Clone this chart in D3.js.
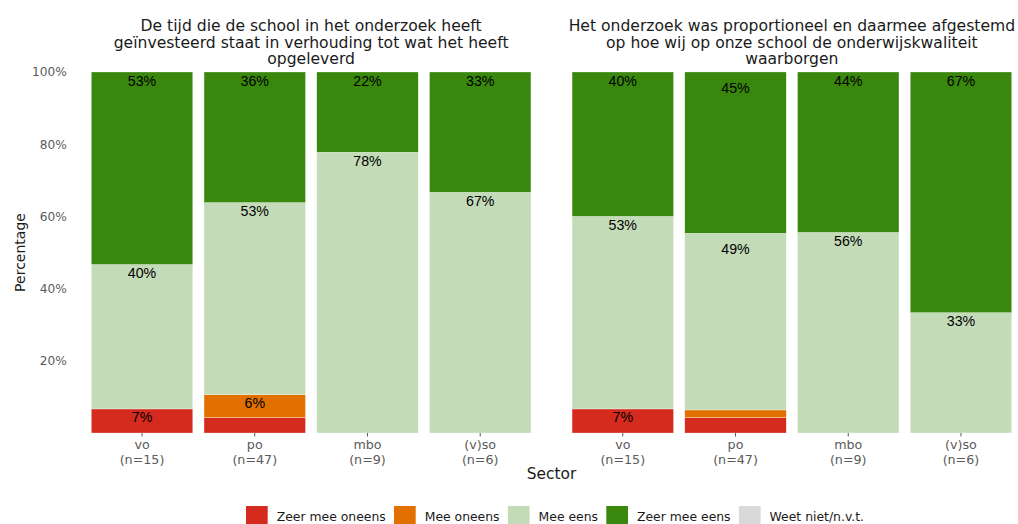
<!DOCTYPE html>
<html>
<head>
<meta charset="utf-8">
<script src="https://cdn.jsdelivr.net/npm/d3@7"></script>
<style>
  html, body { margin: 0; padding: 0; background: #fff; }
  svg { display: block; }
</style>
</head>
<body>
<svg id="chart" width="1018" height="524"></svg>
<script>
// ---------- data ----------
const categories = ["vo", "po", "mbo", "(v)so"];
const nLabels = ["(n=15)", "(n=47)", "(n=9)", "(n=6)"];
const responses = ["Zeer mee oneens", "Mee oneens", "Mee eens", "Zeer mee eens", "Weet niet/n.v.t."];
const responseColors = ["#D52B1E", "#E17000", "#C4DBB8", "#39870C", "#D9D9D9"];
const yTicks = [20, 40, 60, 80, 100];

const panelTitles = [
  ["De tijd die de school in het onderzoek heeft", "geïnvesteerd staat in verhouding tot wat het heeft", "opgeleverd"],
  ["Het onderzoek was proportioneel en daarmee afgestemd", "op hoe wij op onze school de onderwijskwaliteit", "waarborgen"]
];

// Panel 1: De tijd ... (percentages per sector)
const tijdZeerOneens = [6.67, 4.26, 0, 0];
const tijdOneens     = [0, 6.38, 0, 0];
const tijdEens       = [40.00, 53.19, 77.78, 66.67];
const tijdZeerEens   = [53.33, 36.17, 22.22, 33.33];
const tijdWeetNiet   = [0, 0, 0, 0];

// Panel 2: Het onderzoek was proportioneel ...
const propZeerOneens = [6.67, 4.26, 0, 0];
const propOneens     = [0, 2.13, 0, 0];
const propEens       = [53.33, 48.94, 55.56, 33.33];
const propZeerEens   = [40.00, 44.68, 44.44, 66.67];
const propWeetNiet   = [0, 0, 0, 0];

const panelSeries = [
  [tijdZeerOneens, tijdOneens, tijdEens, tijdZeerEens, tijdWeetNiet],
  [propZeerOneens, propOneens, propEens, propZeerEens, propWeetNiet]
];

// ---------- layout ----------
const svg = d3.select("#chart");
const plotLeft = 74.4, plotRight = 1028.6, panelGap = 7.3;
const panelW = (plotRight - plotLeft - panelGap) / 2;
const plotTop = 72, plotBottom = 433;
const axisFont = "'DejaVu Sans', Verdana, sans-serif";

const y = d3.scaleLinear().domain([0, 100]).range([plotBottom, plotTop]);

// y axis labels
const yAxis = svg.append("g").attr("transform", `translate(${plotLeft - 7.5},0)`)
  .call(d3.axisLeft(y).tickValues(yTicks).tickFormat(d => d + "%").tickSize(0).tickPadding(0));
yAxis.select(".domain").remove();
yAxis.selectAll("text").attr("font-family", axisFont).attr("font-size", 12.2).attr("fill", "#5a5a5a");

svg.append("text")
  .attr("transform", `translate(19.5,${(plotTop + plotBottom) / 2}) rotate(-90)`)
  .attr("text-anchor", "middle").attr("dominant-baseline", "central")
  .attr("font-family", axisFont).attr("font-size", 14).attr("fill", "#1a1a1a")
  .text("Percentage");

panelSeries.forEach((series, p) => {
  const x0 = plotLeft + p * (panelW + panelGap);
  const x = d3.scaleBand().domain(categories).range([x0, x0 + panelW]).paddingInner(0.1).paddingOuter(0.15);
  const g = svg.append("g");

  // stacked rows
  const rows = categories.map((c, i) => {
    const r = { cat: c };
    responses.forEach((resp, k) => { r[resp] = series[k][i]; });
    return r;
  });
  const stacked = d3.stack().keys(responses)(rows);

  stacked.forEach((layer, k) => {
    g.selectAll(null).data(layer.filter(d => d[1] - d[0] > 0)).join("rect")
      .attr("x", d => x(d.data.cat))
      .attr("width", x.bandwidth())
      .attr("y", d => y(d[1]))
      .attr("height", d => y(d[0]) - y(d[1]))
      .attr("fill", responseColors[k])
      .attr("stroke", "#ffffff").attr("stroke-opacity", 0.6).attr("stroke-width", 0.5);
  });

  // value labels: placed just under the top of each segment (tiny segments are left out of the label stack)
  categories.forEach((c, i) => {
    let cum = 0;
    responses.forEach((resp, k) => {
      const v = series[k][i];
      if (v >= 3) cum += v;
      if (v >= 5) {
        g.append("text")
          .attr("x", x(c) + x.bandwidth() / 2)
          .attr("y", y(cum) + 8.5)
          .attr("text-anchor", "middle").attr("dominant-baseline", "central")
          .attr("font-family", "'Liberation Sans', Arial, sans-serif").attr("font-size", 14.2)
          .attr("fill", "#000")
          .text(Math.round(v) + "%");
      }
    });
  });

  // x axis
  const xa = svg.append("g").attr("transform", `translate(0,${plotBottom})`)
    .call(d3.axisBottom(x).tickSize(3.5).tickPadding(2).tickFormat(""));
  xa.select(".domain").remove();
  xa.selectAll("line").attr("stroke", "#5a5a5a").attr("stroke-width", 1);
  categories.forEach((c, i) => {
    const t = svg.append("text")
      .attr("x", x(c) + x.bandwidth() / 2).attr("y", 443.5)
      .attr("text-anchor", "middle").attr("dominant-baseline", "central")
      .attr("font-family", axisFont).attr("font-size", 12.7).attr("fill", "#5a5a5a");
    t.append("tspan").attr("x", x(c) + x.bandwidth() / 2).attr("dy", 0).text(c);
    t.append("tspan").attr("x", x(c) + x.bandwidth() / 2).attr("dy", 15).text(nLabels[i]);
  });

  // panel title
  panelTitles[p].forEach((line, li) => {
    svg.append("text")
      .attr("x", x0 + panelW / 2).attr("y", 26 + li * 16.6)
      .attr("text-anchor", "middle").attr("dominant-baseline", "central")
      .attr("font-family", axisFont).attr("font-size", 15.6).attr("fill", "#1a1a1a")
      .text(line);
  });
});

// x axis title
svg.append("text")
  .attr("x", (plotLeft + plotRight) / 2).attr("y", 474)
  .attr("text-anchor", "middle").attr("dominant-baseline", "central")
  .attr("font-family", axisFont).attr("font-size", 15.4).attr("fill", "#1a1a1a")
  .text("Sector");

// legend
const legend = svg.append("g");
const keySize = 21.7, keyGap = 9, itemGap = 8.3;
let lx = 0;
responses.forEach((resp, k) => {
  const it = legend.append("g").attr("transform", `translate(${lx},0)`);
  it.append("rect").attr("x", 0).attr("y", 506).attr("width", keySize).attr("height", keySize)
    .attr("fill", responseColors[k]);
  const t = it.append("text").attr("x", keySize + keyGap).attr("y", 516.7)
    .attr("dominant-baseline", "central")
    .attr("font-family", axisFont).attr("font-size", 12.4).attr("fill", "#1a1a1a")
    .text(resp);
  lx += keySize + keyGap + t.node().getComputedTextLength() + itemGap;
});
const legendW = lx - itemGap;
legend.attr("transform", `translate(${555 - legendW / 2},0)`);
</script>
</body>
</html>
